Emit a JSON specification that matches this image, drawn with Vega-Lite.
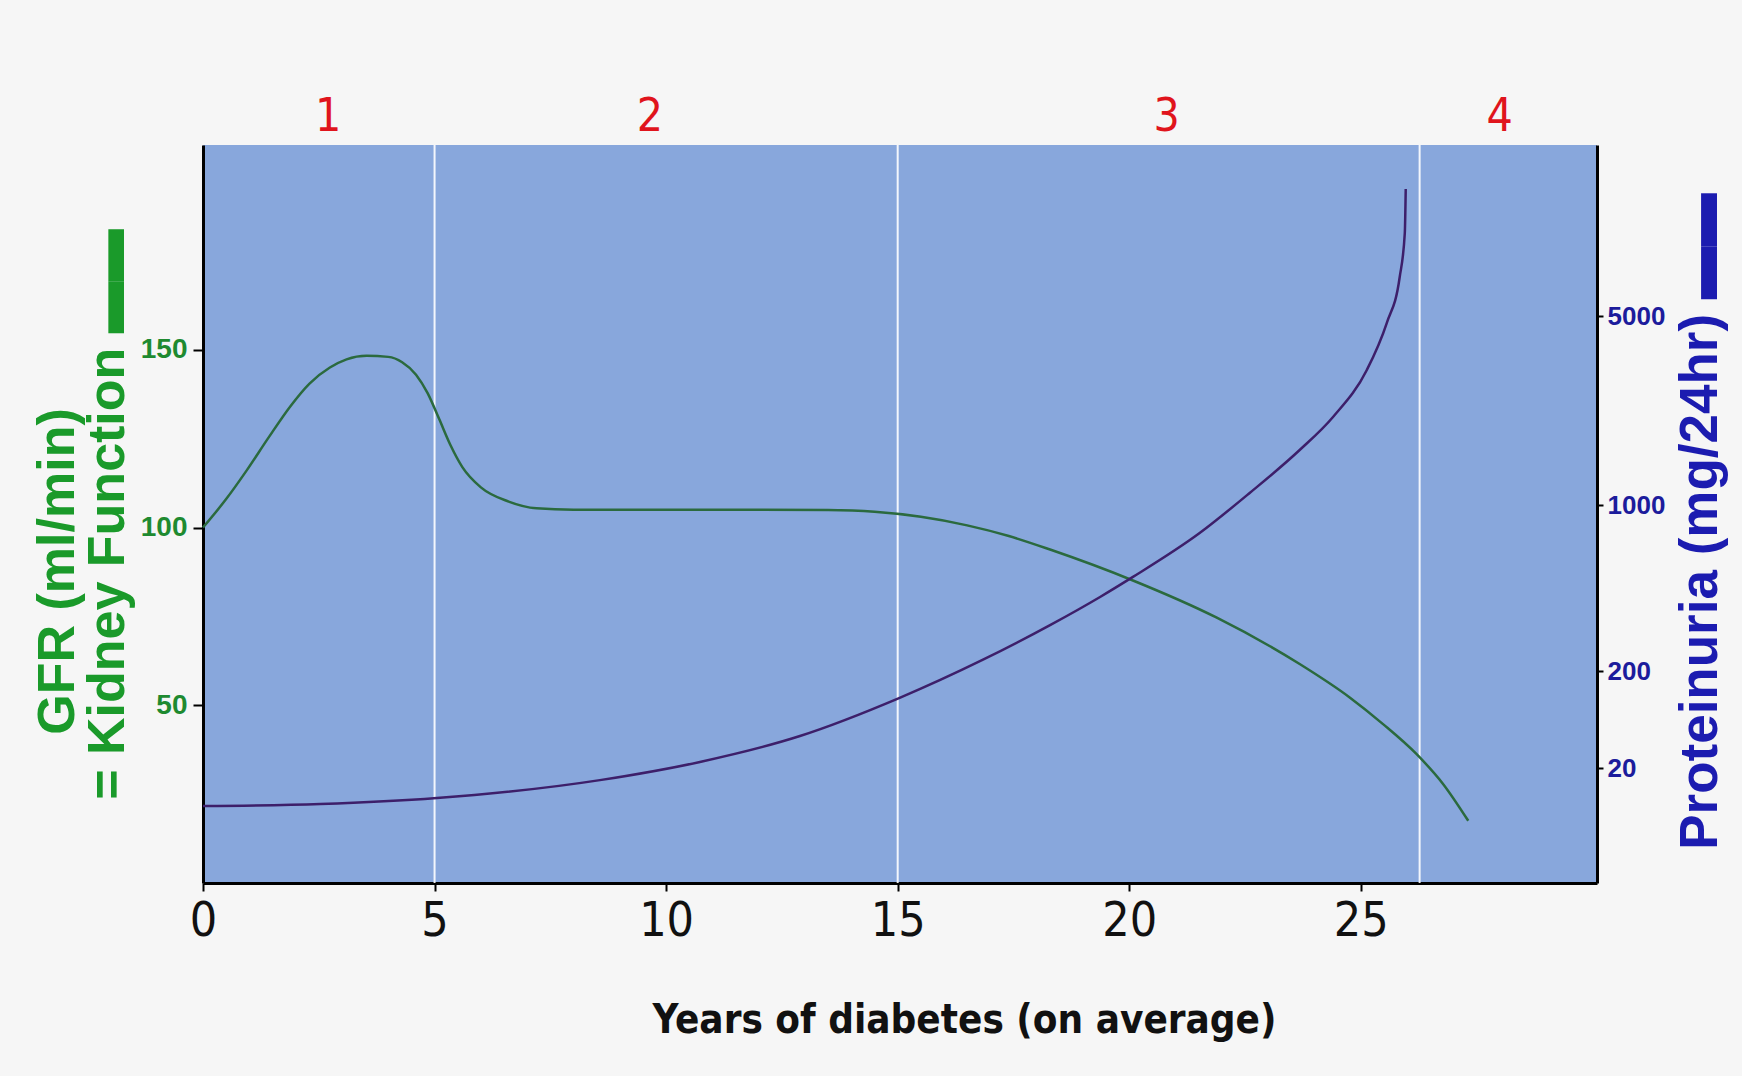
{
  "$schema": "https://vega.github.io/schema/vega-lite/v6.json",
  "width": 1394,
  "height": 738,
  "autosize": {"type": "none"},
  "padding": {"left": 203, "top": 145, "right": 145, "bottom": 193},
  "background": "#f6f6f6",
  "datasets": {
    "bounds": [{"year": 5}, {"year": 15}, {"year": 26.27}],
    "stages": [
      {"stage": "1", "year": 2.7, "gfr": 215.5},
      {"stage": "2", "year": 9.65, "gfr": 215.5},
      {"stage": "3", "year": 20.81, "gfr": 215.5},
      {"stage": "4", "year": 28.0, "gfr": 215.5}
    ],
    "gfr": [
      {"year": 0, "gfr": 100},
      {"year": 0.5, "gfr": 108},
      {"year": 0.94, "gfr": 116},
      {"year": 1.4, "gfr": 125},
      {"year": 1.88, "gfr": 134},
      {"year": 2.3, "gfr": 140.5},
      {"year": 2.74, "gfr": 145},
      {"year": 3.1, "gfr": 147.3},
      {"year": 3.53, "gfr": 148.3},
      {"year": 4.0, "gfr": 148},
      {"year": 4.3, "gfr": 146.5},
      {"year": 4.6, "gfr": 143},
      {"year": 4.85, "gfr": 137.8},
      {"year": 5.1, "gfr": 130.5},
      {"year": 5.35, "gfr": 123},
      {"year": 5.6, "gfr": 117},
      {"year": 6.0, "gfr": 111.3},
      {"year": 6.6, "gfr": 107.3},
      {"year": 7.2, "gfr": 105.4},
      {"year": 8, "gfr": 105},
      {"year": 10, "gfr": 105},
      {"year": 12, "gfr": 105},
      {"year": 13.5, "gfr": 104.9},
      {"year": 14.5, "gfr": 104.4},
      {"year": 15.5, "gfr": 103},
      {"year": 16.5, "gfr": 100.6},
      {"year": 17.4, "gfr": 97.6},
      {"year": 18.29, "gfr": 93.8},
      {"year": 20.08, "gfr": 85.1},
      {"year": 21.88, "gfr": 74.7},
      {"year": 23.68, "gfr": 61.6},
      {"year": 24.76, "gfr": 52.2},
      {"year": 25.48, "gfr": 44.7},
      {"year": 26.2, "gfr": 36.3},
      {"year": 26.78, "gfr": 27.8},
      {"year": 27.32, "gfr": 17.5}
    ],
    "prot": [
      {"year": 0, "prot": 8.1},
      {"year": 2.53, "prot": 8.5},
      {"year": 5.05, "prot": 9.8},
      {"year": 8.57, "prot": 15.0},
      {"year": 10.73, "prot": 23.1},
      {"year": 12.89, "prot": 42.7},
      {"year": 15.03, "prot": 105},
      {"year": 16.82, "prot": 222},
      {"year": 18.29, "prot": 312},
      {"year": 19.37, "prot": 410},
      {"year": 20.08, "prot": 498},
      {"year": 21.52, "prot": 762},
      {"year": 22.6, "prot": 1108},
      {"year": 23.68, "prot": 1597},
      {"year": 24.4, "prot": 2116},
      {"year": 25.13, "prot": 3157},
      {"year": 25.56, "prot": 4710},
      {"year": 25.84, "prot": 6970},
      {"year": 25.95, "prot": 10140},
      {"year": 25.97, "prot": 14750}
    ]
  },
  "encoding": {
    "x": {
      "field": "year",
      "type": "quantitative",
      "scale": {"domain": [0, 30.1], "nice": false, "zero": false},
      "axis": {
        "values": [0, 5, 10, 15, 20, 25],
        "title": "Years of diabetes (on average)",
        "titleFont": "DejaVu Sans Condensed, DejaVu Sans",
        "titleFontSize": 40,
        "titleFontWeight": "bold",
        "titleColor": "#111111",
        "titleX": 761,
        "titleY": 137,
        "titleBaseline": "middle",
        "titleAlign": "center",
        "labelFont": "DejaVu Sans Condensed, DejaVu Sans",
        "labelFontSize": 48,
        "labelColor": "#111111",
        "labelFlush": false,
        "labelOverlap": false,
        "labelPadding": 6,
        "tickSize": 8,
        "tickWidth": 2,
        "tickColor": "#000000",
        "domainColor": "#000000",
        "domainWidth": 3,
        "grid": false
      }
    }
  },
  "layer": [
    {
      "layer": [
        {
          "data": {"name": "bounds"},
          "mark": {"type": "rule", "color": "#ffffff", "strokeWidth": 2, "opacity": 0.9},
          "encoding": {}
        },
        {
          "data": {"name": "gfr"},
          "mark": {"type": "line", "color": "#2b6a3e", "strokeWidth": 2.5, "interpolate": "monotone"},
          "encoding": {
            "y": {
              "field": "gfr",
              "type": "quantitative",
              "scale": {"domain": [0, 207.6], "nice": false, "zero": true},
              "axis": {
                "orient": "left",
                "values": [50, 100, 150],
                "title": ["GFR (ml/min)⠀⠀⠀", "= Kidney Function ▬▬"],
                "titleFont": "Liberation Sans",
                "titleFontSize": 52,
                "titleFontWeight": "bold",
                "titleColor": "#1a9a2a",
                "titleLineHeight": 50,
                "titleX": -146,
                "titleY": 369,
                "titleAngle": 270,
                "titleBaseline": "middle",
                "titleAlign": "center",
                "labelFont": "Liberation Sans",
                "labelFontSize": 28,
                "labelFontWeight": "bold",
                "labelColor": "#1e8a30",
                "labelPadding": 6,
                "tickSize": 10,
                "tickWidth": 2,
                "tickColor": "#000000",
                "domainColor": "#000000",
                "domainWidth": 3,
                "grid": false
              }
            }
          }
        },
        {
          "data": {"name": "stages"},
          "mark": {
            "type": "text",
            "color": "#e0141c",
            "font": "DejaVu Sans Condensed, DejaVu Sans",
            "fontSize": 46,
            "align": "center",
            "baseline": "middle"
          },
          "encoding": {
            "y": {
              "field": "gfr",
              "type": "quantitative",
              "scale": {"domain": [0, 207.6], "nice": false, "zero": true},
              "axis": {
                "orient": "left",
                "values": [50, 100, 150],
                "title": ["GFR (ml/min)⠀⠀⠀", "= Kidney Function ▬▬"],
                "titleFont": "Liberation Sans",
                "titleFontSize": 52,
                "titleFontWeight": "bold",
                "titleColor": "#1a9a2a",
                "titleLineHeight": 50,
                "titleX": -146,
                "titleY": 369,
                "titleAngle": 270,
                "titleBaseline": "middle",
                "titleAlign": "center",
                "labelFont": "Liberation Sans",
                "labelFontSize": 28,
                "labelFontWeight": "bold",
                "labelColor": "#1e8a30",
                "labelPadding": 6,
                "tickSize": 10,
                "tickWidth": 2,
                "tickColor": "#000000",
                "domainColor": "#000000",
                "domainWidth": 3,
                "grid": false
              }
            },
            "text": {"field": "stage"}
          }
        }
      ]
    },
    {
      "data": {"name": "prot"},
      "mark": {"type": "line", "color": "#3d1f6a", "strokeWidth": 2.5, "interpolate": "monotone"},
      "encoding": {
        "y": {
          "field": "prot",
          "type": "quantitative",
          "scale": {
            "type": "log",
            "domain": [1.305, 20, 200, 1000, 5000, 21450],
            "range": [738, 623, 526, 360, 171, 0],
            "nice": false
          },
          "axis": {
            "orient": "right",
            "values": [20, 200, 1000, 5000],
            "format": "d",
            "title": "Proteinuria (mg/24hr) ▬▬",
            "titleFont": "Liberation Sans",
            "titleFontSize": 53,
            "titleFontWeight": "bold",
            "titleColor": "#1c1cb0",
            "titleAngle": 270,
            "titleX": 103,
            "titleY": 376,
            "titleBaseline": "middle",
            "titleAlign": "center",
            "labelFont": "Liberation Sans",
            "labelFontSize": 26,
            "labelFontWeight": "bold",
            "labelColor": "#1c1c9c",
            "labelPadding": 4,
            "tickSize": 6,
            "tickWidth": 2,
            "tickColor": "#000000",
            "domainColor": "#000000",
            "domainWidth": 3,
            "grid": false
          }
        }
      }
    }
  ],
  "resolve": {"scale": {"y": "independent"}},
  "config": {"view": {"fill": "#88a7dc", "stroke": null}}
}
